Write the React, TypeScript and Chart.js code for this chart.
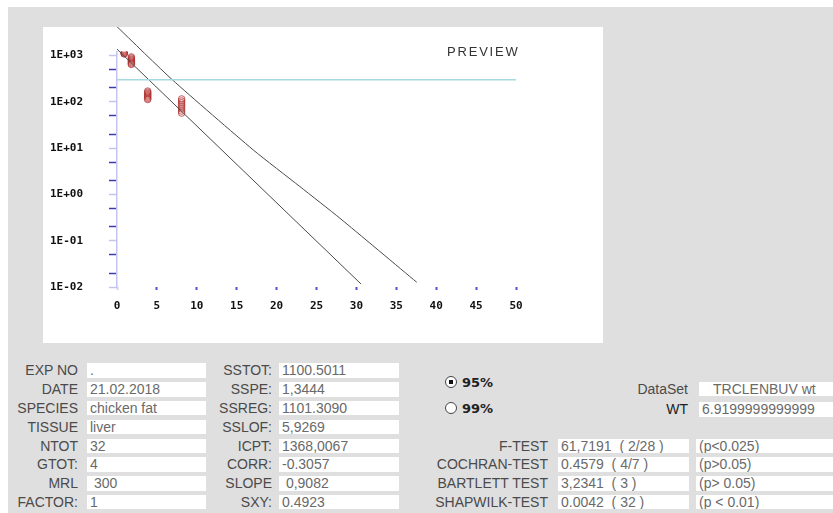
import React, { useEffect, useRef } from "react";
import { Chart, registerables } from "chart.js";

Chart.register(...registerables);

// ---------- chart data ----------
const xTickValues = [0, 5, 10, 15, 20, 25, 30, 35, 40, 45, 50];
const yTickValues = [0.01, 0.02, 0.05, 0.1, 0.2, 0.5, 1, 2, 5, 10, 20, 50, 100, 200, 500, 1000];
const yDecadeValues = [0.01, 0.1, 1, 10, 100, 1000];
const yDecadeLabels = ["1E-02", "1E-01", "1E+00", "1E+01", "1E+02", "1E+03"];

const sampleDays = [0.9, 1.8, 3.85, 8.1];
const residuesDay1 = [1380, 1330, 1280, 1230, 1180, 1140, 1100, 1080];
const residuesDay2 = [930, 880, 830, 790, 750, 710, 670, 640];
const residuesDay4 = [170, 160, 150, 142, 134, 126, 118, 112];
const residuesDay8 = [115, 104, 95, 86, 78, 70, 63, 57];
const residueGroups = [residuesDay1, residuesDay2, residuesDay4, residuesDay8];

const regressionX = [0, 30.58];
const regressionY = [1368, 0.0116];

const toleranceX = [0, 6.92, 17.08, 22.93, 27.94, 37.56];
const toleranceY = [4190, 300, 9.1, 1.47, 0.305, 0.01265];

const mrlX = [0, 50];
const mrlValue = 300;

const strayX = [52.6];
const strayY = [14.9];

// ---------- form data ----------
const leftLabels = ["EXP NO", "DATE", "SPECIES", "TISSUE", "NTOT", "GTOT:", "MRL", "FACTOR:"];
const leftValues = [".", "21.02.2018", "chicken fat", "liver", "32", "4", " 300", "1"];
const midLabels = ["SSTOT:", "SSPE:", "SSREG:", "SSLOF:", "ICPT:", "CORR:", "SLOPE", "SXY:"];
const midValues = ["1100.5011", "1,3444", "1101.3090", "5,9269", "1368,0067", "-0.3057", " 0,9082", "0.4923"];
const testLabels = ["F-TEST", "COCHRAN-TEST", "BARTLETT TEST", "SHAPWILK-TEST"];
const testValues = ["61,7191  ( 2/28 )", "0.4579  ( 4/7 )", "3,2341  ( 3 )", "0.0042  ( 32 )"];
const testP = ["(p<0.025)", "(p>0.05)", "(p> 0.05)", "(p < 0.01)"];
const confidenceOptions = ["95%", "99%"];
const selectedConfidence = 0;
const dataSetName = "TRCLENBUV wt";
const wtValue = "6.9199999999999";
const previewText = "PREVIEW";

const tickFont = { family: '"DejaVu Sans Mono", monospace', size: 11, weight: "bold" as const };

function ChartPanel() {
  const ref = useRef<HTMLCanvasElement | null>(null);
  useEffect(() => {
    if (!ref.current) return;
    const points: { x: number; y: number }[] = [];
    residueGroups.forEach((g, i) => g.forEach((v) => points.push({ x: sampleDays[i], y: v })));
    const chart = new Chart(ref.current, {
      type: "scatter",
      data: {
        datasets: [
          {
            data: mrlX.map((x) => ({ x, y: mrlValue })),
            showLine: true,
            borderColor: "#a4d9de",
            borderWidth: 1.5,
            pointRadius: 0,
          },
          {
            data: regressionX.map((x, i) => ({ x, y: regressionY[i] })),
            showLine: true,
            borderColor: "#4a4a4a",
            borderWidth: 1,
            pointRadius: 0,
            clip: false,
          },
          {
            data: toleranceX.map((x, i) => ({ x, y: toleranceY[i] })),
            showLine: true,
            borderColor: "#4a4a4a",
            borderWidth: 1,
            pointRadius: 0,
            tension: 0.2,
            clip: false,
          },
          {
            data: points,
            pointRadius: 3.3,
            pointBorderWidth: 1,
            borderColor: "rgba(170,40,40,0.7)",
            backgroundColor: "rgba(220,120,120,0.12)",
          },
          {
            data: strayX.map((x, i) => ({ x, y: strayY[i] })),
            pointRadius: 1,
            borderColor: "#777",
            backgroundColor: "#777",
            clip: false,
          },
        ] as any,
      },
      options: {
        animation: false,
        responsive: false,
        maintainAspectRatio: false,
        layout: { padding: { top: 24.8, right: 87, left: 0, bottom: 0 } },
        plugins: { legend: { display: false }, tooltip: { enabled: false } },
        scales: {
          x: {
            type: "linear",
            min: 0,
            max: 50,
            afterBuildTicks: (s: any) => {
              s.ticks = xTickValues.map((v) => ({ value: v }));
            },
            afterFit: (s: any) => {
              s.height = 56;
            },
            ticks: { font: tickFont, color: "#111", padding: 10, autoSkip: false, maxRotation: 0 },
            grid: {
              drawOnChartArea: false,
              tickLength: 3,
              tickWidth: 2,
              tickColor: (c: any) => (c.tick && c.tick.value === 0 ? "#d0d0f0" : "#5050c8"),
            },
            border: { display: false },
          },
          y: {
            type: "logarithmic",
            min: 0.01,
            max: 1200,
            afterBuildTicks: (s: any) => {
              s.ticks = yTickValues.map((v) => ({ value: v }));
            },
            afterFit: (s: any) => {
              s.width = 74;
              s.paddingTop = 0;
              s.paddingBottom = 0;
            },
            ticks: {
              font: tickFont,
              color: "#111",
              padding: 26,
              autoSkip: false,
              callback: (value: any) => {
                const i = yDecadeValues.findIndex(
                  (d) => Math.abs(Math.log10(d) - Math.log10(Number(value))) < 1e-6
                );
                return i >= 0 ? yDecadeLabels[i] : "";
              },
            },
            grid: {
              drawOnChartArea: false,
              tickLength: 8,
              tickWidth: 1.5,
              tickColor: (c: any) => {
                const v = c.tick ? c.tick.value : 0;
                const isDecade = yDecadeValues.some((d) => Math.abs(Math.log10(d) - Math.log10(v)) < 1e-6);
                return isDecade ? "#c4c4ee" : "#3c3cb0";
              },
            },
            border: { display: true, color: "#c4c4ee", width: 1.5 },
          },
        },
      } as any,
    });
    return () => chart.destroy();
  }, []);
  return (
    <canvas
      ref={ref}
      width={560}
      height={316}
      style={{ position: "absolute", left: 43, top: 27, width: 560, height: 316, background: "#fff" }}
    />
  );
}

const ROW_TOP = 363.3;
const ROW_STEP = 18.8;
const BOX_H = 14.5;

const labelStyle: React.CSSProperties = {
  position: "absolute",
  font: '14px "Liberation Sans", Arial, sans-serif',
  color: "#4a4a4a",
  textAlign: "right",
  whiteSpace: "nowrap",
  height: BOX_H,
  lineHeight: BOX_H + "px",
};
const boxStyle: React.CSSProperties = {
  position: "absolute",
  background: "#fff",
  font: '14px "Liberation Sans", Arial, sans-serif',
  color: "#6a6a6a",
  whiteSpace: "pre",
  overflow: "hidden",
  height: BOX_H,
  lineHeight: BOX_H + "px",
  boxSizing: "border-box",
  paddingLeft: 3,
};

function Field({ label, value, row, labelRight, boxLeft, boxRight, top }: any) {
  const t = top !== undefined ? top : ROW_TOP + row * ROW_STEP;
  return (
    <>
      {label !== undefined && (
        <div style={{ ...labelStyle, left: labelRight - 200, width: 200, top: t }}>{label}</div>
      )}
      <div style={{ ...boxStyle, left: boxLeft, width: boxRight - boxLeft, top: t }}>{value}</div>
    </>
  );
}

export default function App() {
  return (
    <div style={{ position: "fixed", left: 0, top: 0, width: 833, height: 513, background: "#fff", overflow: "hidden" }}>
      <div style={{ position: "absolute", left: 8, top: 7, width: 825, height: 506, background: "#dfdfdf" }} />
      <div style={{ position: "absolute", left: 43, top: 27, width: 560, height: 316, background: "#fff" }} />
      <ChartPanel />
      <div
        style={{
          position: "absolute",
          left: 447,
          top: 45,
          font: '13px "Liberation Sans", Arial, sans-serif',
          letterSpacing: 1.8,
          color: "#333",
          lineHeight: "13px",
        }}
      >
        {previewText}
      </div>

      {leftLabels.map((l, i) => (
        <Field key={"l" + i} label={l} value={leftValues[i]} row={i} labelRight={78} boxLeft={87} boxRight={206} />
      ))}
      {midLabels.map((l, i) => (
        <Field key={"m" + i} label={l} value={midValues[i]} row={i} labelRight={272} boxLeft={279} boxRight={399} />
      ))}
      {testLabels.map((l, i) => (
        <React.Fragment key={"t" + i}>
          <Field label={l} value={testValues[i]} row={i + 4} labelRight={548} boxLeft={558} boxRight={689} />
          <Field value={testP[i]} row={i + 4} boxLeft={696} boxRight={840} />
        </React.Fragment>
      ))}

      <div style={{ ...labelStyle, left: 488, width: 200, top: 381.7 }}>DataSet</div>
      <div style={{ ...boxStyle, left: 699, width: 140, top: 381.7, paddingLeft: 14 }}>{dataSetName}</div>
      <div style={{ ...labelStyle, left: 488, width: 200, top: 402.3, color: "#222" }}>WT</div>
      <div style={{ ...boxStyle, left: 699, width: 140, top: 402.3 }}>{wtValue}</div>

      {confidenceOptions.map((o, i) => {
        const cy = i === 0 ? 382.3 : 408.3;
        return (
          <React.Fragment key={"r" + i}>
            <div
              style={{
                position: "absolute",
                left: 445,
                top: cy - 6,
                width: 12,
                height: 12,
                borderRadius: "50%",
                border: "1px solid #444",
                background: "#fff",
                boxSizing: "border-box",
              }}
            >
              {i === selectedConfidence && (
                <div style={{ position: "absolute", left: 3, top: 3, width: 4, height: 4, background: "#111" }} />
              )}
            </div>
            <div
              style={{
                position: "absolute",
                left: 462,
                top: cy - 7,
                height: 14,
                lineHeight: "14px",
                font: 'bold 13px "DejaVu Sans", sans-serif',
                color: "#222",
              }}
            >
              {o}
            </div>
          </React.Fragment>
        );
      })}
    </div>
  );
}
